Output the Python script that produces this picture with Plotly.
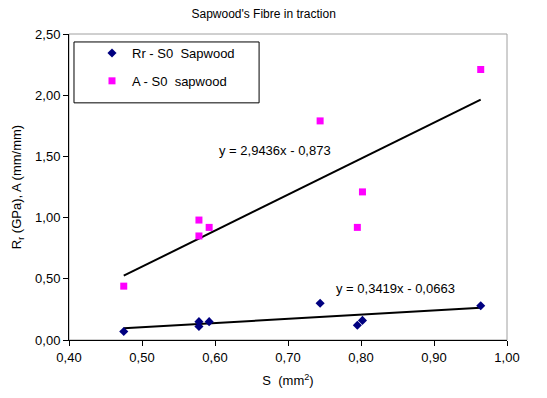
import plotly.graph_objects as go

# Data
S = [0.475, 0.578, 0.578, 0.592, 0.744, 0.795, 0.802, 0.964]
Rr = [0.07, 0.15, 0.11, 0.15, 0.30, 0.12, 0.16, 0.28]
S_A = [0.475, 0.578, 0.578, 0.592, 0.744, 0.795, 0.802, 0.964]
A = [0.44, 0.98, 0.85, 0.92, 1.79, 0.92, 1.21, 2.21]

fit_A = (2.9436, -0.873)
fit_Rr = (0.3419, -0.0663)
fit_range = [0.475, 0.964]

x_ticks = [0.40, 0.50, 0.60, 0.70, 0.80, 0.90, 1.00]
x_ticktext = ["0,40", "0,50", "0,60", "0,70", "0,80", "0,90", "1,00"]
y_ticks = [0.0, 0.5, 1.0, 1.5, 2.0, 2.5]
y_ticktext = ["0,00", "0,50", "1,00", "1,50", "2,00", "2,50"]

FONT = "Liberation Sans, Arial, sans-serif"

fig = go.Figure()

fig.add_trace(go.Scatter(
    x=fit_range, y=[fit_A[0] * v + fit_A[1] for v in fit_range],
    mode="lines", line=dict(color="black", width=2), showlegend=False, hoverinfo="skip"))
fig.add_trace(go.Scatter(
    x=fit_range, y=[fit_Rr[0] * v + fit_Rr[1] for v in fit_range],
    mode="lines", line=dict(color="black", width=2), showlegend=False, hoverinfo="skip"))

fig.add_trace(go.Scatter(
    x=S, y=Rr, mode="markers", name="Rr - S0  Sapwood", legendgroup="g1",
    marker=dict(symbol="diamond", size=7, color="#000080")))
fig.add_trace(go.Scatter(
    x=S_A, y=A, mode="markers", name="A - S0  sapwood", legendgroup="g2",
    marker=dict(symbol="square", size=7, color="#FF00FF")))

fig.add_annotation(x=0.682, y=1.55, text="y = 2,9436x - 0,873", showarrow=False,
                   font=dict(size=13, color="black", family=FONT))
fig.add_annotation(x=0.847, y=0.42, text="y = 0,3419x - 0,0663", showarrow=False,
                   font=dict(size=13, color="black", family=FONT))

# plot frame (grey top/right)
fig.add_shape(type="rect", xref="paper", yref="paper", x0=0, y0=0, x1=1, y1=1,
              line=dict(color="#a0a0a0", width=1), layer="below")
# legend box
fig.add_shape(type="rect", xref="paper", yref="paper", x0=0.0114, y0=0.775, x1=0.434, y1=0.974,
              line=dict(color="black", width=1), fillcolor="white", layer="below")

fig.update_layout(
    width=547, height=398,
    margin=dict(l=69, r=40, t=34, b=58),
    paper_bgcolor="white", plot_bgcolor="white",
    font=dict(family=FONT, size=13, color="black"),
    title=dict(text="Sapwood's Fibre in traction", x=0.482, xanchor="center",
               y=0.965, yanchor="middle", font=dict(size=12, family=FONT, color="black")),
    legend=dict(x=0.0525, y=0.987, xanchor="left", yanchor="top",
                borderwidth=0, bgcolor="rgba(0,0,0,0)",
                font=dict(size=13, family=FONT), tracegroupgap=8),
    xaxis=dict(range=[0.40, 1.00], tickvals=x_ticks, ticktext=x_ticktext,
               showgrid=False, zeroline=False, showline=True, linecolor="black", linewidth=1,
               ticks="outside", ticklen=5, tickcolor="black",
               title=dict(text="S  (mm<sup>2</sup>)", standoff=12, font=dict(size=13))),
    yaxis=dict(range=[0, 2.5], tickvals=y_ticks, ticktext=y_ticktext,
               showgrid=False, zeroline=False, showline=True, linecolor="black", linewidth=1,
               ticks="outside", ticklen=5, tickcolor="black",
               title=dict(text="R<sub>r</sub> (GPa), A (mm/mm)", standoff=10, font=dict(size=13))),
)

fig.write_html("out.html")
